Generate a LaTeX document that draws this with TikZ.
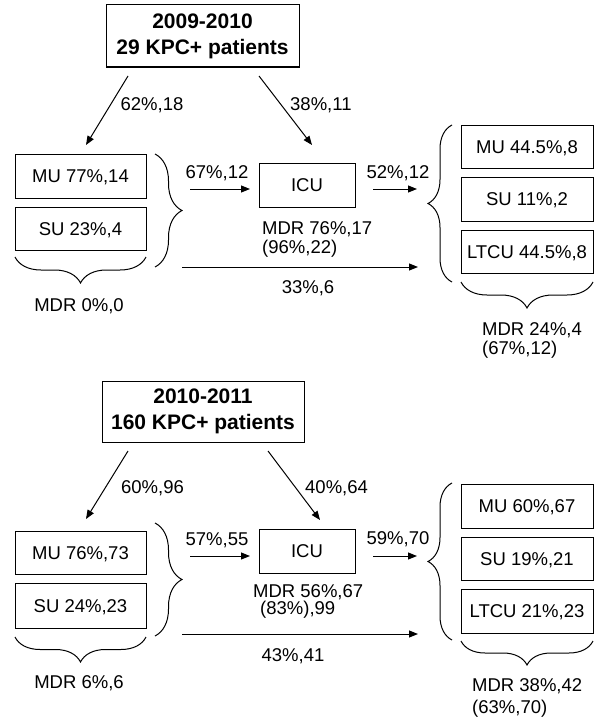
\documentclass[tikz,border=0pt]{standalone}
\usepackage{fontspec}
\setmainfont{Liberation Sans}
\usetikzlibrary{arrows.meta,decorations.pathreplacing}
\begin{document}
\begin{tikzpicture}[x=1pt,y=-1pt,
  lbl/.style={font=\fontsize{18.5}{21}\selectfont,inner sep=0pt,text height=13pt,text depth=0pt},
  box/.style={draw,line width=1pt,inner sep=0pt,font=\fontsize{18.5}{21}\selectfont,text height=13pt,text depth=0pt,minimum width=#1},
  box/.default=131pt,
  ttl/.style={draw,line width=1pt,inner sep=0pt,align=center,font=\fontsize{21}{26}\selectfont\bfseries},
  arr/.style={line width=1pt,-{Triangle[length=9pt,width=7pt]}},
  brc/.style={decorate,decoration={brace,amplitude=#1},line width=1pt}]
\useasboundingbox (0,0) rectangle (600,725);
\fill[white] (0,0) rectangle (600,725);

% ===== top panel =====
\node[ttl,minimum width=193pt,minimum height=62pt] (t1) at (202.5,36) {2009-2010\\29 KPC+ patients};
\node[box,minimum height=44pt] (mu1) at (80.5,176) {MU 77\%,14};
\node[box,minimum height=43pt] (su1) at (80.5,228.5) {SU 23\%,4};
\node[box=96pt,minimum height=44pt] (icu1) at (307,185) {ICU};
\node[box=132pt,minimum height=43pt] (rmu1) at (527,146.5) {MU 44.5\%,8};
\node[box=132pt,minimum height=44pt] (rsu1) at (527,199) {SU 11\%,2};
\node[box=132pt,minimum height=43pt] (rlt1) at (527,251.5) {LTCU 44.5\%,8};

\coordinate (a1s) at (128,76);  \coordinate (a1e) at (86,145);
\coordinate (a2s) at (259,76);  \coordinate (a2e) at (312,145);
\coordinate (a3s) at (190,189); \coordinate (a3e) at (250,189);
\coordinate (a4s) at (373,189); \coordinate (a4e) at (417,189);
\coordinate (a5s) at (182,267); \coordinate (a5e) at (418,267);
\draw[arr] (a1s) -- (a1e);
\draw[arr] (a2s) -- (a2e);
\draw[arr] (a3s) -- (a3e);
\draw[arr] (a4s) -- (a4e);
\draw[arr] (a5s) -- (a5e);

\draw[brc=27pt] (155,154) -- (155,267);
\draw[brc=26pt] (146,257) -- (15,257);
\draw[brc=24pt] (452,282) -- (452,125);
\draw[brc=26pt] (593,282) -- (461,282);

\node[lbl] (l1) at (152,104) {62\%,18};
\node[lbl,anchor=west] (l2) at (290,104) {38\%,11};
\node[lbl] (l3) at (217,172) {67\%,12};
\node[lbl] (l4) at (398,172) {52\%,12};
\node[lbl,anchor=west] (l5) at (262,228) {MDR 76\%,17};
\node[lbl,anchor=west] (l6) at (262,247) {(96\%,22)};
\node[lbl] (l7) at (308,287) {33\%,6};
\node[lbl] (l8) at (79,305) {MDR 0\%,0};
\node[lbl,anchor=west] (l9) at (482,329) {MDR 24\%,4};
\node[lbl,anchor=west] (l10) at (482,348) {(67\%,12)};

% ===== bottom panel =====
\node[ttl,minimum width=202pt,minimum height=61pt] (t2) at (203,411.5) {2010-2011\\160 KPC+ patients};
\node[box,minimum height=43pt] (mu2) at (80.5,552.5) {MU 76\%,73};
\node[box,minimum height=45pt] (su2) at (80.5,605.5) {SU 24\%,23};
\node[box=96pt,minimum height=44pt] (icu2) at (307,551) {ICU};
\node[box=132pt,minimum height=44pt] (rmu2) at (527,506) {MU 60\%,67};
\node[box=132pt,minimum height=43pt] (rsu2) at (527,558.5) {SU 19\%,21};
\node[box=132pt,minimum height=44pt] (rlt2) at (527,611) {LTCU 21\%,23};

\coordinate (b1s) at (128,451); \coordinate (b1e) at (86,519);
\coordinate (b2s) at (268,451); \coordinate (b2e) at (320,520);
\coordinate (b3s) at (190,556); \coordinate (b3e) at (250,556);
\coordinate (b4s) at (373,556); \coordinate (b4e) at (417,556);
\coordinate (b5s) at (182,634); \coordinate (b5e) at (418,634);
\draw[arr] (b1s) -- (b1e);
\draw[arr] (b2s) -- (b2e);
\draw[arr] (b3s) -- (b3e);
\draw[arr] (b4s) -- (b4e);
\draw[arr] (b5s) -- (b5e);

\draw[brc=27pt] (155,523) -- (155,636);
\draw[brc=25pt] (146,637) -- (15,637);
\draw[brc=24pt] (452,640) -- (452,483);
\draw[brc=24pt] (593,641) -- (461,641);

\node[lbl] (m1) at (152.5,487) {60\%,96};
\node[lbl,anchor=west] (m2) at (305,487) {40\%,64};
\node[lbl] (m3) at (217,539) {57\%,55};
\node[lbl] (m4) at (398,538) {59\%,70};
\node[lbl,anchor=west] (m5) at (253,591) {MDR 56\%,67};
\node[lbl,anchor=west] (m6) at (260,608) {(83\%),99};
\node[lbl] (m7) at (293,655) {43\%,41};
\node[lbl] (m8) at (79,682) {MDR 6\%,6};
\node[lbl,anchor=west] (m9) at (472,685) {MDR 38\%,42};
\node[lbl,anchor=west] (m10) at (472,707) {(63\%,70)};
\end{tikzpicture}
\end{document}
